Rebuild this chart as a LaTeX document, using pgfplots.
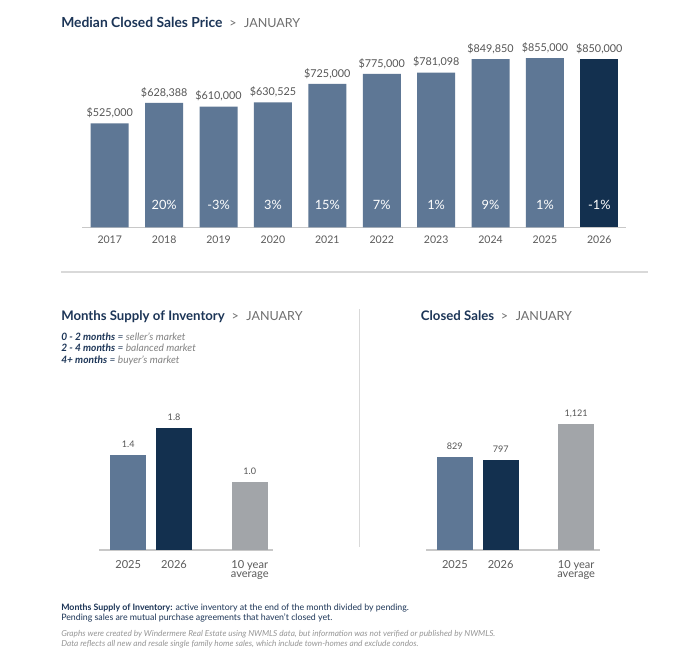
\documentclass[border=0pt]{standalone}
\usepackage{pgfplots}
\pgfplotsset{compat=1.18}
\usepackage{pgfplotstable}
\usepackage{fontspec}
\setmainfont{Lato}
\definecolor{lightbar}{RGB}{94,119,149}
\definecolor{darkbar}{RGB}{19,48,79}
\definecolor{graybar}{RGB}{162,165,169}
\definecolor{navy}{RGB}{28,53,87}
\definecolor{jangray}{RGB}{110,110,110}
\definecolor{valgray}{RGB}{85,85,85}
\definecolor{tickgray}{RGB}{90,90,90}
\definecolor{axisgray}{RGB}{200,200,200}
\definecolor{sepgray}{RGB}{217,217,217}
\definecolor{footgray}{RGB}{150,150,150}
\definecolor{legray}{RGB}{130,130,130}
\pgfplotsset{/pgf/number format/assume math mode=true}

\pgfplotstableread{
x y
0 525000
1 628388
2 610000
3 630525
4 725000
5 775000
6 781098
7 849850
8 855000
}\pricelight
\pgfplotstableread{
x y
9 850000
}\pricedark
\pgfplotstableread{
x p
1 20
2 -3
3 3
4 15
5 7
6 1
7 9
8 1
9 -1
}\pricepct
\pgfplotstableread{
x y
0 1.4
}\invA
\pgfplotstableread{
x y
1 1.8
}\invB
\pgfplotstableread{
x y
2.65 1.0
}\invC
\pgfplotstableread{
x y
0 829
}\salA
\pgfplotstableread{
x y
1 797
}\salB
\pgfplotstableread{
x y
2.65 1121
}\salC

\newcommand{\PX}[2]{({#1*0.75pt},{-#2*0.75pt})}

\pgfplotsset{
  chartbase/.style={
    scale only axis, clip=false,
    ymin=0,
    axis x line*=bottom, axis y line=none,
    x axis line style={draw=axisgray, line width=1pt, -},
    major tick length=0pt,
    xticklabel style={anchor=north, inner sep=0pt, text=tickgray, font=\fontsize{8.3}{7.3}\selectfont, align=center},
  },
  barstyle/.style={ybar, bar shift=0pt, draw=none, fill=#1},
}

\begin{document}
\begin{tikzpicture}
\useasboundingbox[fill=white] (0,0) rectangle (682*0.75pt,-665*0.75pt);

% ---------- titles ----------
\node[anchor=base west, inner sep=0pt, text=navy, font=\fontsize{10.4}{12}\selectfont\bfseries] at \PX{61}{27.3}
  {Median Closed Sales Price{\mdseries\color{jangray}\fontsize{9.4}{11}\selectfont\hspace{0.55em}>\hspace{0.6em}JANUARY}};
\node[anchor=base west, inner sep=0pt, text=navy, font=\fontsize{9.9}{12}\selectfont\bfseries] at \PX{61}{320}
  {Months Supply of Inventory{\mdseries\color{jangray}\fontsize{9.4}{11}\selectfont\hspace{0.55em}>\hspace{0.6em}JANUARY}};
\node[anchor=base west, inner sep=0pt, text=navy, font=\fontsize{9.9}{12}\selectfont\bfseries] at \PX{420.7}{320}
  {Closed Sales{\mdseries\color{jangray}\fontsize{9.4}{11}\selectfont\hspace{0.55em}>\hspace{0.6em}JANUARY}};

% legend lines
\node[anchor=base west, inner sep=0pt, font=\fontsize{7.6}{8}\selectfont\itshape] at \PX{61}{340}
  {{\bfseries\color{navy}0 - 2 months} {\color{navy}=} {\color{legray}seller's market}};
\node[anchor=base west, inner sep=0pt, font=\fontsize{7.6}{8}\selectfont\itshape] at \PX{61}{351.7}
  {{\bfseries\color{navy}2 - 4 months} {\color{navy}=} {\color{legray}balanced market}};
\node[anchor=base west, inner sep=0pt, font=\fontsize{7.6}{8}\selectfont\itshape] at \PX{61}{363.3}
  {{\bfseries\color{navy}4+ months} {\color{navy}=} {\color{legray}buyer's market}};

% separators
\draw[sepgray, line width=1.2pt] \PX{61}{271.7} -- \PX{647.7}{271.7};
\draw[sepgray, line width=1pt] \PX{359.3}{309} -- \PX{359.3}{546.7};

% footer
\node[anchor=base west, inner sep=0pt, font=\fontsize{6.6}{7}\selectfont, text=navy] at \PX{61}{610}
  {{\bfseries Months Supply of Inventory:} active inventory at the end of the month divided by pending.};
\node[anchor=base west, inner sep=0pt, font=\fontsize{6.6}{7}\selectfont, text=navy] at \PX{61}{620.7}
  {Pending sales are mutual purchase agreements that haven't closed yet.};
\node[anchor=base west, inner sep=0pt, font=\fontsize{6.2}{6}\selectfont\itshape, text=footgray] at \PX{61}{636.7}
  {Graphs were created by Windermere Real Estate using NWMLS data, but information was not verified or published by NWMLS.};
\node[anchor=base west, inner sep=0pt, font=\fontsize{6.2}{6}\selectfont\itshape, text=footgray] at \PX{61}{646.7}
  {Data reflects all new and resale single family home sales, which include town-homes and exclude condos.};

% ---------- top chart ----------
\begin{axis}[chartbase,
  at={(61.5pt,-170.475pt)}, anchor=south west,
  width=408pt, height=148.5pt,
  xmin=-0.51, xmax=9.49, ymax=1000000,
  bar width=28.5pt,
  xtick={0,...,9},
  xticklabels={2017,2018,2019,2020,2021,2022,2023,2024,2025,2026},
  xticklabel style={yshift=-6pt, font=\fontsize{7.9}{8}\selectfont},
  nodes near coords={\$\pgfmathprintnumber[fixed,precision=0,1000 sep={,}]{\pgfplotspointmeta}},
  every node near coord/.append style={anchor=base, inner sep=0pt, yshift=5pt, text=valgray, font=\fontsize{8.1}{9}\selectfont},
]
\addplot[barstyle=lightbar] table[x=x,y=y] {\pricelight};
\addplot[barstyle=darkbar] table[x=x,y=y] {\pricedark};
\addplot[draw=none, mark=none, point meta=explicit symbolic,
  nodes near coords={\pgfplotspointmeta\%},
  every node near coord/.append style={anchor=base, inner sep=0pt, yshift=8.5pt, text=white, font=\fontsize{9.6}{10}\selectfont}]
  table[x=x, y expr=0, meta=p] {\pricepct};
\end{axis}

% ---------- bottom left ----------
\begin{axis}[chartbase,
  at={(74.475pt,-412.5pt)}, anchor=south west,
  width=130.05pt, height=111.525pt,
  xmin=-0.63, xmax=3.15, ymax=2.2,
  bar width=27.4pt,
  xtick={0,1,2.65},
  xticklabels={2025,2026,{10 year\\average}},
  xticklabel style={yshift=-7.3pt},
  nodes near coords={\pgfmathprintnumber[fixed,fixed zerofill,precision=1]{\pgfplotspointmeta}},
  every node near coord/.append style={anchor=base, inner sep=0pt, yshift=5.7pt, text=valgray, font=\fontsize{6.8}{7}\selectfont},
]
\addplot[barstyle=lightbar] table[x=x,y=y] {\invA};
\addplot[barstyle=darkbar] table[x=x,y=y] {\invB};
\addplot[barstyle=graybar] table[x=x,y=y] {\invC};
\end{axis}

% ---------- bottom right ----------
\begin{axis}[chartbase,
  at={(319.5pt,-412.5pt)}, anchor=south west,
  width=130.5pt, height=109.8pt,
  xmin=-0.63, xmax=3.17, ymax=1300,
  bar width=27.2pt,
  xtick={0,1,2.65},
  xticklabels={2025,2026,{10 year\\average}},
  xticklabel style={yshift=-7.3pt},
  nodes near coords={\pgfmathprintnumber[fixed,precision=0,1000 sep={,}]{\pgfplotspointmeta}},
  every node near coord/.append style={anchor=base, inner sep=0pt, yshift=5.5pt, text=valgray, font=\fontsize{6.8}{7}\selectfont},
]
\addplot[barstyle=lightbar] table[x=x,y=y] {\salA};
\addplot[barstyle=darkbar] table[x=x,y=y] {\salB};
\addplot[barstyle=graybar] table[x=x,y=y] {\salC};
\end{axis}
\end{tikzpicture}
\end{document}
